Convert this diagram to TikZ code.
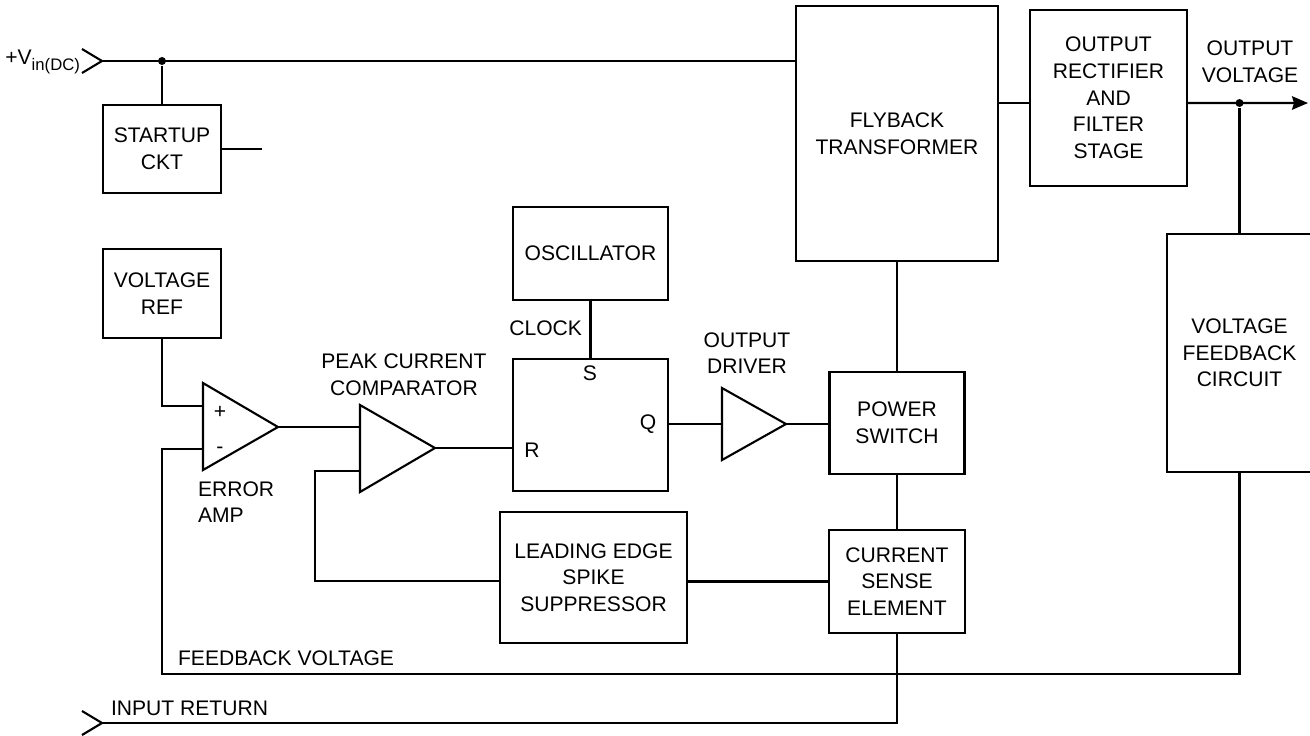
\documentclass[tikz,border=0pt]{standalone}
\usepackage{fontspec}
\setmainfont{Liberation Sans}
\usetikzlibrary{arrows.meta}

\begin{document}
\begin{tikzpicture}[x=0.02cm, y=-0.02cm, line width=1.2pt,
		font=\fontsize{12}{15.2}\selectfont,
		blk/.style={draw, rectangle, inner sep=0pt, align=center},
		lbl/.style={inner sep=0pt, align=center},
		jdot/.style={circle, fill, inner sep=0pt, minimum size=0.16cm}]
				\useasboundingbox (0,0) rectangle (1310,735);
				\node[blk, minimum width=2.36cm, minimum height=1.76cm] (startup) at (162,149) {STARTUP\\CKT};
				\node[blk, minimum width=2.36cm, minimum height=1.78cm] (vref) at (162,293.5) {VOLTAGE\\REF};
				\node[blk, minimum width=3.10cm, minimum height=1.86cm] (osc) at (590.5,253.5) {OSCILLATOR};
				\node[blk, minimum width=3.10cm, minimum height=2.64cm] (ff) at (590.5,425) {};
				\node[blk, minimum width=3.74cm, minimum height=2.62cm] (spike) at (593.5,577.5) {LEADING EDGE\\SPIKE\\SUPPRESSOR};
				\node[blk, minimum width=2.70cm, minimum height=2.04cm] (pswitch) at (897,423) {POWER\\SWITCH};
				\node[blk, minimum width=2.72cm, minimum height=2.06cm] (csense) at (897,581.5) {CURRENT\\SENSE\\ELEMENT};
				\node[blk, minimum width=4.04cm, minimum height=5.10cm] (flyback) at (897,133.5) {FLYBACK\\TRANSFORMER};
				\node[blk, minimum width=3.14cm, minimum height=3.52cm] (rectifier) at (1108.5,98) {OUTPUT\\RECTIFIER\\AND\\FILTER\\STAGE};
				\node[blk, minimum width=2.90cm, minimum height=4.76cm] (vfb) at (1239.5,353) {VOLTAGE\\FEEDBACK\\CIRCUIT};
				\coordinate (vin) at (102,61);
				\coordinate (ret) at (102,723);
				\coordinate (ea-p) at (203,406);
				\coordinate (ea-n) at (203,449);
				\coordinate (ea-o) at (278,427);
				\coordinate (cmp-p) at (360,427);
				\coordinate (cmp-n) at (360,471);
				\coordinate (cmp-o) at (435,448);
				\coordinate (drv-i) at (722,424);
				\coordinate (drv-o) at (786,424);
				\coordinate (vout) at (1308,103);
				\coordinate (fbc) at (162,674);
				\coordinate (lp) at (315,581);
				\draw (203,383) -- (ea-o) -- (203,470) -- cycle;
				\draw (360,405) -- (cmp-o) -- (360,492) -- cycle;
				\draw (722,388) -- (drv-o) -- (722,460) -- cycle;
				\foreach \c in {vin,ret} {
					\draw (\c) ++(-20,-12) -- (\c) -- ++(-20,12);
				}
				\draw (vin) -- (vin -| flyback.west);
				\node[jdot] (j1) at (162,61) {};
				\draw (j1) -- (startup.north);
				\draw (startup.east) -- ++(40,0) coordinate (stu-end);
				\draw ([yshift=-0.1cm]rectifier.west) -- ([yshift=-0.1cm]rectifier.west -| flyback.east);
				\draw[-{Stealth[length=0.32cm, width=0.27cm, inset=0.04cm]}] ([yshift=-0.1cm]rectifier.east) -- (vout);
				\node[jdot] (j2) at (1239.5,103) {};
				\draw (j2) -- (vfb.north);
				\draw (vfb.south) |- (fbc) |- (ea-n);
				\draw (vref.south) |- (ea-p);
				\draw (ea-o) -- (cmp-p);
				\draw (cmp-o) -- (cmp-o -| ff.west);
				\draw (osc.south) -- (ff.north);
				\draw (ff.east |- drv-i) -- (drv-i);
				\draw (drv-o) -- (drv-o -| pswitch.west);
				\draw (flyback.south) -- (pswitch.north);
				\draw (pswitch.south) -- (csense.north);
				\draw (csense.west) -- (csense.west -| spike.east);
				\draw (spike.west |- lp) -- (lp) |- (cmp-n);
				\draw (csense.south) |- (ret);
				\node[lbl, anchor=east] at (81,62) {+V\raisebox{-0.3em}{\fontsize{9.5}{11}\selectfont in(DC)}};
				\node[lbl] at (590,373) {S};
				\node[lbl] at (648,424) {Q};
				\node[lbl] at (532,450) {R};
				\node[lbl] at (220,412) {+};
				\node[lbl] at (220,450) {-};
				\node[lbl, anchor=east] at (583,328) {CLOCK};
				\node[lbl] at (404,375) {PEAK CURRENT\\COMPARATOR};
				\node[lbl] at (747,353) {OUTPUT\\DRIVER};
				\node[lbl, anchor=west, align=left] at (197,502) {ERROR\\AMP};
				\node[lbl] at (1250,62) {OUTPUT\\VOLTAGE};
				\node[lbl, anchor=west] at (177,658) {FEEDBACK VOLTAGE};
				\node[lbl, anchor=west] at (110,708) {INPUT RETURN};
			\end{tikzpicture}
\end{document}
